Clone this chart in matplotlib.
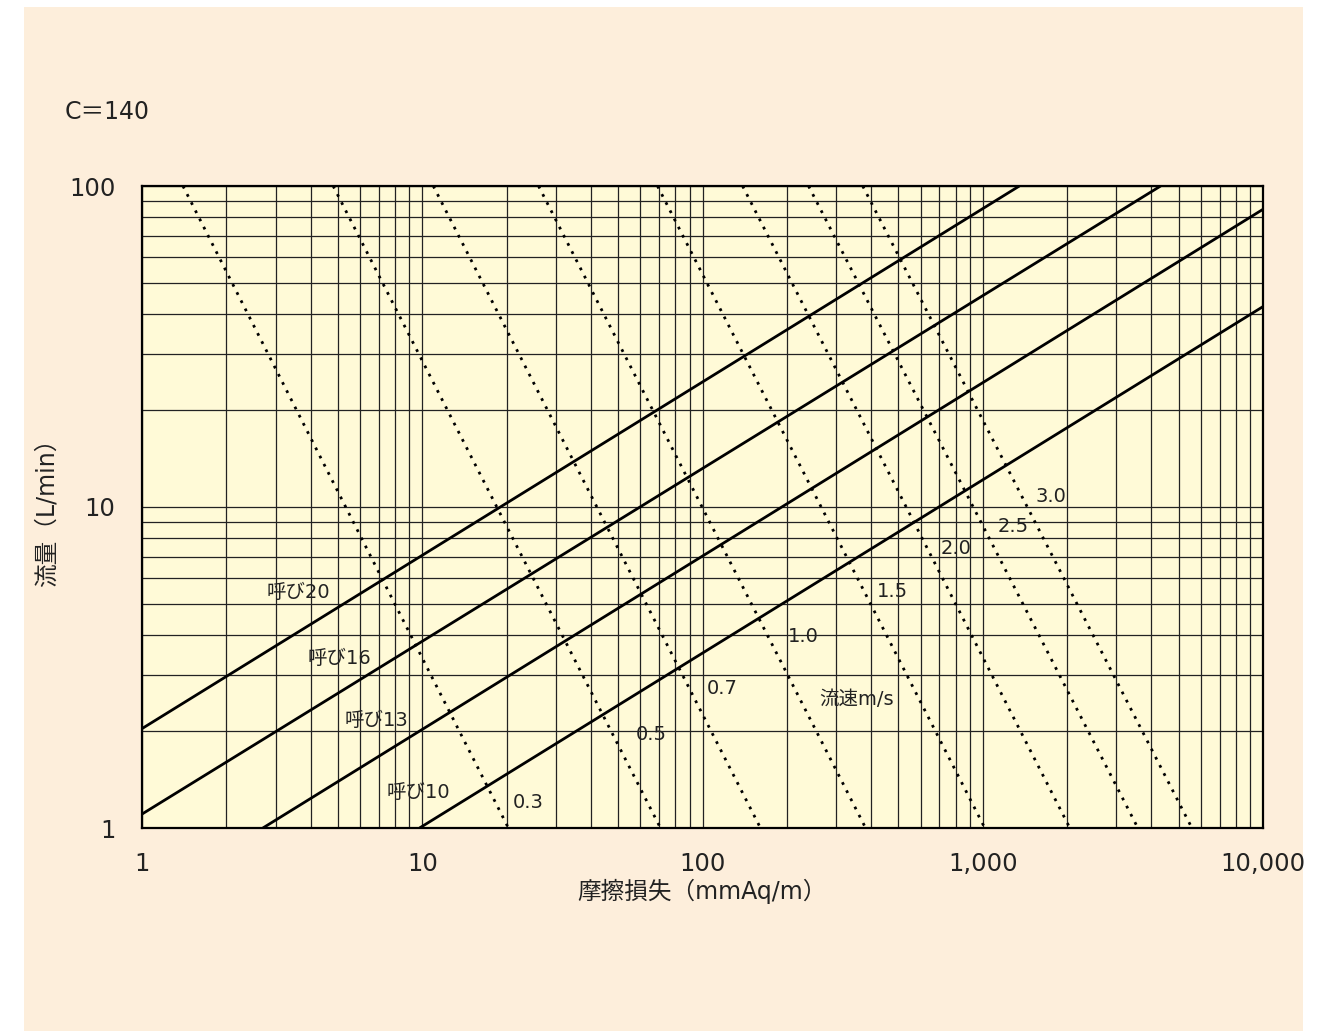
import matplotlib
matplotlib.use('Agg')
import matplotlib.pyplot as plt
from matplotlib.patches import Rectangle

plt.rcParams['font.family'] = ['DejaVu Sans', 'Noto Sans CJK JP']

# pipe sizes (solid lines): end points (friction loss, flow)
pipe_labels = ['呼び20', '呼び16', '呼び13', '呼び10']
pipe_h = [[1, 1351], [1, 4312], [2.70, 10000], [9.78, 10000]]
pipe_q = [[2.04, 100], [1.105, 100], [1, 84.6], [1, 42.1]]
pipe_label_h = [3.61, 5.05, 6.85, 9.68]
pipe_label_q = [5.43, 3.37, 2.17, 1.29]

# flow velocity (dotted lines): friction loss where each line meets Q=100 and Q=1
vel_labels = ['0.3', '0.5', '0.7', '1.0', '1.5', '2.0', '2.5', '3.0']
vel_q = [100, 1]
vel_h_top = [1.40, 4.81, 10.95, 26.0, 69.1, 139, 239, 373]
vel_h_bottom = [20.3, 70.8, 161, 382, 1017, 2045, 3577, 5576]
vel_label_h = [23.9, 65.8, 118, 229, 475, 804, 1279, 1750]
vel_label_q = [1.20, 1.95, 2.72, 3.95, 5.46, 7.43, 8.70, 10.8]

xticks = [1, 10, 100, 1000, 10000]
xtick_labels = ['1', '10', '100', '1,000', '10,000']
yticks = [1, 10, 100]
ytick_labels = ['1', '10', '100']

fig = plt.figure(figsize=(13.22, 10.34), dpi=100, facecolor='white')
# beige panel behind everything
fig.patches.append(Rectangle((24 / 1322, 3 / 1034), 1279 / 1322, 1024 / 1034,
                             transform=fig.transFigure, facecolor='#fdeedb',
                             edgecolor='none', zorder=-10))

ax = fig.add_axes([142 / 1322, 206 / 1034, 1121 / 1322, 642 / 1034])
ax.set_facecolor('#fffad7')
ax.set_xscale('log')
ax.set_yscale('log')
ax.set_xlim(1, 10000)
ax.set_ylim(1, 100)

ax.grid(True, which='both', color='#222222', linewidth=0.9)
ax.set_axisbelow(True)

for h, q in zip(pipe_h, pipe_q):
    ax.plot(h, q, color='black', linewidth=2.0, solid_capstyle='butt')
for name, x, y in zip(pipe_labels, pipe_label_h, pipe_label_q):
    ax.text(x, y, name, fontsize=14, ha='center', va='center', color='#222222')

for ht, hb in zip(vel_h_top, vel_h_bottom):
    ax.plot([ht, hb], vel_q, color='black', linewidth=2.0, linestyle=(0, (1, 2.3)))
for name, x, y in zip(vel_labels, vel_label_h, vel_label_q):
    ax.text(x, y, name, fontsize=14, ha='center', va='center', color='#222222')
ax.text(355, 2.52, '流速m/s', fontsize=14, ha='center', va='center', color='#222222')

ax.set_xticks(xticks)
ax.set_xticklabels(xtick_labels)
ax.set_yticks(yticks)
ax.set_yticklabels(ytick_labels)
ax.tick_params(which='both', length=0, labelsize=17.5, colors='#222222')
ax.tick_params(axis='x', pad=17)
ax.tick_params(axis='y', pad=19)

for s in ax.spines.values():
    s.set_linewidth(1.6)
    s.set_color('black')

ax.set_xlabel('摩擦損失（mmAq/m）', fontsize=17, labelpad=2, color='#222222')
ax.set_ylabel('流量（L/min）', fontsize=17, labelpad=8, color='#222222')

fig.text(65 / 1322, 1 - 112 / 1034, 'C＝140', fontsize=17, ha='left', va='center',
         color='#222222')

fig.savefig('out.png', dpi=100, facecolor='white')
